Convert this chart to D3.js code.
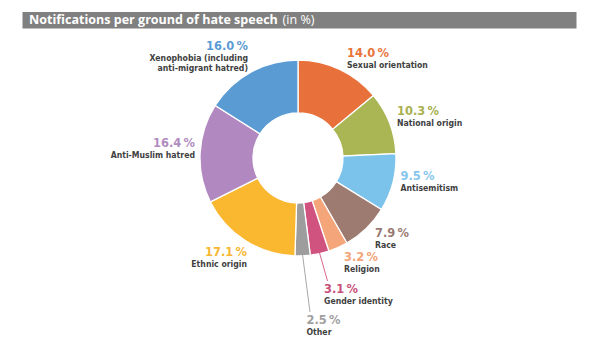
<!DOCTYPE html>
<html><head><meta charset="utf-8">
<script src="https://cdn.jsdelivr.net/npm/d3@7/dist/d3.min.js"></script>
<style>body{margin:0;background:#fff}svg{display:block}</style>
</head><body><svg id="c" width="597" height="356"></svg>
<script>
// ---- data ----
const titleMain = "Notifications per ground of hate speech";
const titleUnit = "(in %)";
const categories = ["Sexual orientation","National origin","Antisemitism","Race","Religion","Gender identity","Other","Ethnic origin","Anti-Muslim hatred","Xenophobia (including anti-migrant hatred)"];
const categoryLines = [["Sexual orientation"],["National origin"],["Antisemitism"],["Race"],["Religion"],["Gender identity"],["Other"],["Ethnic origin"],["Anti-Muslim hatred"],["Xenophobia (including","anti-migrant hatred)"]];
const values = [14.0,10.3,9.5,7.9,3.2,3.1,2.5,17.1,16.4,16.0];
const valueLabels = ["14.0","10.3","9.5","7.9","3.2","3.1","2.5","17.1","16.4","16.0"];
const sliceColors = ["#e8703a","#aab553","#7cc3ec","#9e7b70","#f4a57a","#d0537f","#9d9d9d","#f9b830","#b189c0","#5a9bd4"];
const textColors  = ["#e8743b","#a8b04f","#86c6ec","#9a7a73","#f2a47a","#c9507a","#a0a0a0","#f7b733","#b08cc0","#5b9bd5"];
const hasLeader   = [false,false,false,false,false,true,true,false,false,false];

// ---- layout (positions only) ----
const layout = [
  {x:347, y:57,  a:"start"},
  {x:397, y:115, a:"start"},
  {x:400.5, y:180, a:"start"},
  {x:375, y:237, a:"start"},
  {x:344, y:261, a:"start"},
  {x:324, y:293, a:"start"},
  {x:306.5, y:324, a:"start"},
  {x:247, y:255.5, a:"end"},
  {x:195, y:147, a:"end"},
  {x:248, y:50,  a:"end"}
];
const cx = 298, cy = 158, rOuter = 98, rInner = 45;

const svg = d3.select("#c");
const TFONT = "'Open Sans', 'DejaVu Sans', sans-serif";
const VFONT = "'DejaVu Sans', sans-serif";
const LFONT = "'DejaVu Sans Condensed', 'DejaVu Sans', sans-serif";

function fitSize(text, fam, weight, target, base){
  const t = svg.append("text").attr("font-family",fam).attr("font-weight",weight)
    .attr("font-size",base).text(text);
  const w = t.node().getComputedTextLength(); t.remove();
  return base*target/w;
}

// title bar
svg.append("rect").attr("x",22.5).attr("y",12).attr("width",554).attr("height",16.5).attr("fill","#808080");
const tSize = fitSize(titleMain,TFONT,"bold",249,12);
const title = svg.append("text").attr("x",29).attr("y",24.3).attr("fill","#fff")
  .attr("font-family",TFONT).attr("font-size",tSize);
title.append("tspan").attr("font-weight","bold").text(titleMain);
title.append("tspan").attr("dx",1.5).attr("font-weight","normal").text(" "+titleUnit);

// donut
const pie = d3.pie().sort(null).value(d=>d).startAngle(0).endAngle(2*Math.PI);
const arcs = pie(values);
const arc = d3.arc().innerRadius(rInner).outerRadius(rOuter);
const g = svg.append("g").attr("transform",`translate(${cx},${cy})`);
g.selectAll("path").data(arcs).join("path")
  .attr("d",arc).attr("fill",(d,i)=>sliceColors[i])
  .attr("stroke","#fff").attr("stroke-width",1.3);

// leader lines
const edge = d3.arc().innerRadius(rOuter-1).outerRadius(rOuter-1);
arcs.forEach((d,i)=>{
  if(!hasLeader[i]) return;
  const [px,py] = edge.centroid(d);
  svg.append("line")
    .attr("x1",cx+px).attr("y1",cy+py)
    .attr("x2",layout[i].x+3.5).attr("y2",layout[i].y-12)
    .attr("stroke",sliceColors[i]).attr("stroke-width",0.9);
});

// labels
const vSize = fitSize("14.0\u2009%",VFONT,"bold",42,12);
const lSize = fitSize("Sexual orientation",LFONT,"bold",81,9);
categories.forEach((c,i)=>{
  const L = layout[i];
  svg.append("text").attr("x",L.x).attr("y",L.y).attr("text-anchor",L.a)
    .attr("font-family",VFONT).attr("font-weight","bold").attr("font-size",vSize)
    .attr("fill",textColors[i]).text(valueLabels[i]+"\u2009%");
  categoryLines[i].forEach((ln,k)=>{
    svg.append("text").attr("x",L.x).attr("y",L.y+11+k*10.1).attr("text-anchor",L.a)
      .attr("font-family",LFONT).attr("font-weight","bold").attr("font-size",lSize)
      .attr("fill","#3f3f3f").text(ln);
  });
});
</script>
</body></html>
